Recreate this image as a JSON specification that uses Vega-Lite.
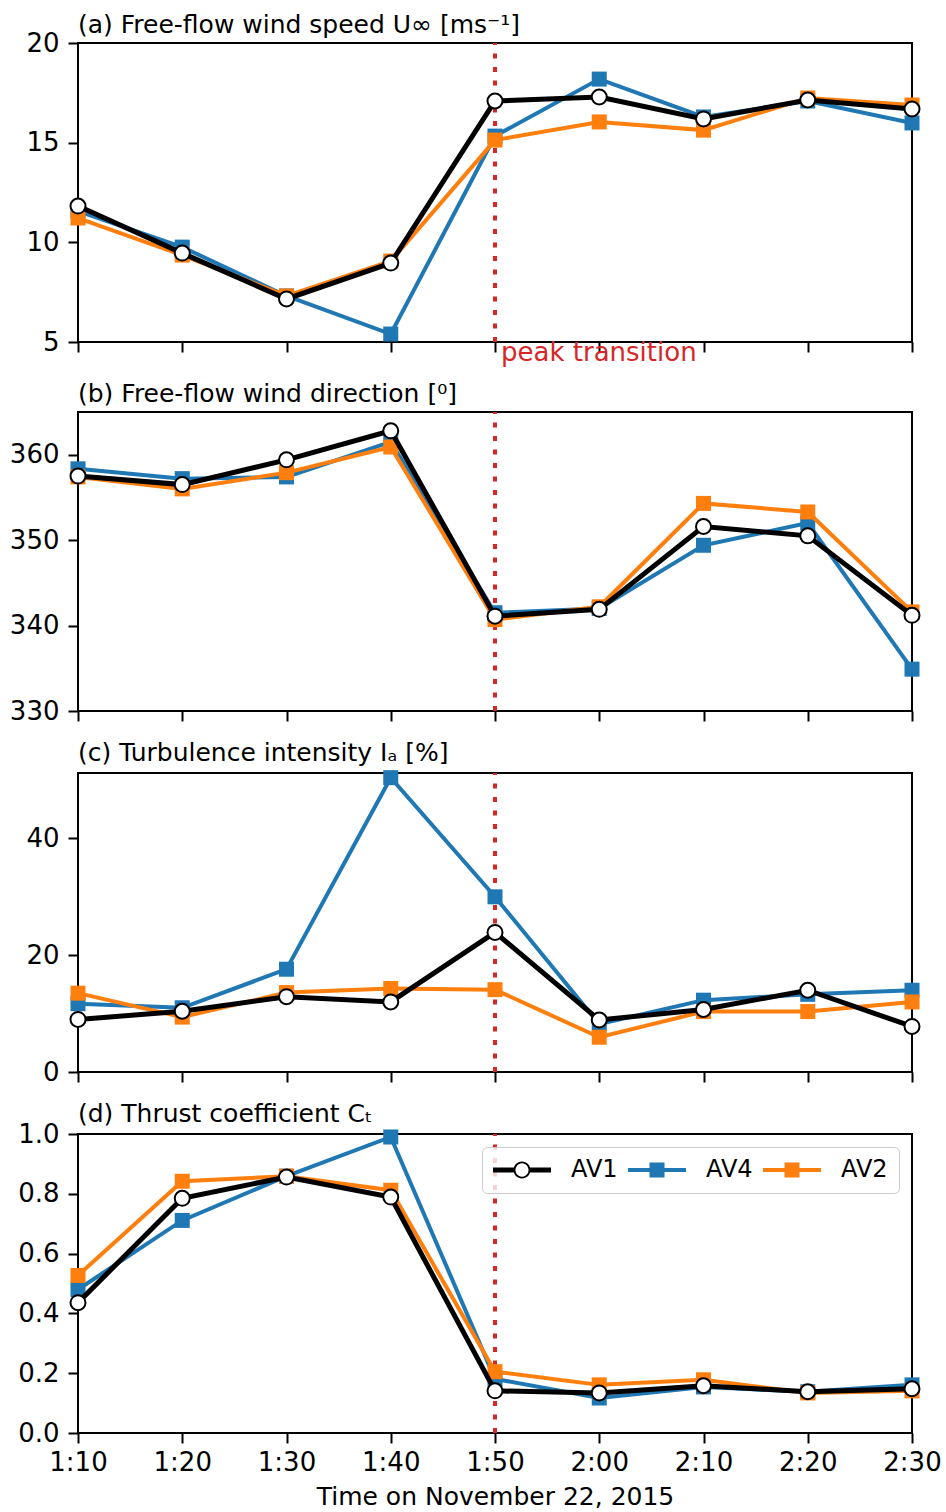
{
  "$schema": "https://vega.github.io/schema/vega-lite/v6.json",
  "padding": {"left": 7, "top": 12, "right": 5, "bottom": 3},
  "data": {"values": [
    {"t": "1:10", "s": "AV1", "u": 11.82, "d": 357.5, "ti": 9.0, "ct": 0.436},
    {"t": "1:20", "s": "AV1", "u": 9.46, "d": 356.5, "ti": 10.4, "ct": 0.785},
    {"t": "1:30", "s": "AV1", "u": 7.16, "d": 359.4, "ti": 12.9, "ct": 0.856},
    {"t": "1:40", "s": "AV1", "u": 8.96, "d": 362.8, "ti": 12.0, "ct": 0.789},
    {"t": "1:50", "s": "AV1", "u": 17.09, "d": 341.1, "ti": 23.9, "ct": 0.141},
    {"t": "2:00", "s": "AV1", "u": 17.29, "d": 341.9, "ti": 8.9, "ct": 0.134},
    {"t": "2:10", "s": "AV1", "u": 16.19, "d": 351.6, "ti": 10.7, "ct": 0.158},
    {"t": "2:20", "s": "AV1", "u": 17.14, "d": 350.5, "ti": 14.0, "ct": 0.138},
    {"t": "2:30", "s": "AV1", "u": 16.69, "d": 341.2, "ti": 7.8, "ct": 0.148},
    {"t": "1:10", "s": "AV4", "u": 11.57, "d": 358.35, "ti": 11.7, "ct": 0.48},
    {"t": "1:20", "s": "AV4", "u": 9.76, "d": 357.2, "ti": 11.0, "ct": 0.711},
    {"t": "1:30", "s": "AV4", "u": 7.31, "d": 357.4, "ti": 17.6, "ct": 0.859},
    {"t": "1:40", "s": "AV4", "u": 5.4, "d": 361.5, "ti": 50.4, "ct": 0.99},
    {"t": "1:50", "s": "AV4", "u": 15.33, "d": 341.5, "ti": 30.0, "ct": 0.181},
    {"t": "2:00", "s": "AV4", "u": 18.19, "d": 342.0, "ti": 8.2, "ct": 0.117},
    {"t": "2:10", "s": "AV4", "u": 16.29, "d": 349.4, "ti": 12.3, "ct": 0.154},
    {"t": "2:20", "s": "AV4", "u": 17.09, "d": 352.0, "ti": 13.3, "ct": 0.138},
    {"t": "2:30", "s": "AV4", "u": 15.99, "d": 334.9, "ti": 14.0, "ct": 0.161},
    {"t": "1:10", "s": "AV2", "u": 11.22, "d": 357.4, "ti": 13.5, "ct": 0.527},
    {"t": "1:20", "s": "AV2", "u": 9.36, "d": 356.0, "ti": 9.4, "ct": 0.842},
    {"t": "1:30", "s": "AV2", "u": 7.31, "d": 357.9, "ti": 13.6, "ct": 0.859},
    {"t": "1:40", "s": "AV2", "u": 9.06, "d": 360.9, "ti": 14.3, "ct": 0.812},
    {"t": "1:50", "s": "AV2", "u": 15.13, "d": 340.7, "ti": 14.1, "ct": 0.205},
    {"t": "2:00", "s": "AV2", "u": 16.04, "d": 342.2, "ti": 5.95, "ct": 0.161},
    {"t": "2:10", "s": "AV2", "u": 15.63, "d": 354.3, "ti": 10.35, "ct": 0.178},
    {"t": "2:20", "s": "AV2", "u": 17.24, "d": 353.3, "ti": 10.35, "ct": 0.134},
    {"t": "2:30", "s": "AV2", "u": 16.89, "d": 341.6, "ti": 12.0, "ct": 0.141}
  ]},
  "spacing": 14,
  "resolve": {"scale": {"color": "independent"}, "legend": {"color": "independent"}},
  "vconcat": [
    {
      "width": 834, "height": 299,
      "title": {"text": "(a) Free-flow wind speed U∞ [ms⁻¹]", "offset": -8},
      "encoding": {
        "x": {"field": "t", "type": "ordinal", "sort": null, "scale": {"type": "point", "padding": 0, "domain": ["1:10","1:20","1:30","1:40","1:50","2:00","2:10","2:20","2:30"]}, "axis": {"labels": false, "title": null}},
        "y": {"field": "u", "type": "quantitative", "scale": {"domain": [5, 20], "nice": false, "zero": false}, "axis": {"values": [5, 10, 15, 20], "title": null}}
      },
      "layer": [
        {"transform": [{"filter": "datum.s === 'AV1' && datum.t === '1:50'"}], "mark": {"type": "rule", "color": "#d62728", "strokeWidth": 4, "strokeDash": [5, 8.5]}, "encoding": {"y": {"datum": 5}, "y2": {"datum": 20}}},
        {"transform": [{"filter": "datum.s === 'AV4'"}], "mark": {"type": "line", "color": "#1f77b4", "strokeWidth": 4}, "encoding": {}},
        {"transform": [{"filter": "datum.s === 'AV4'"}], "mark": {"type": "point", "shape": "square", "filled": true, "color": "#1f77b4", "size": 225, "opacity": 1}, "encoding": {}},
        {"transform": [{"filter": "datum.s === 'AV2'"}], "mark": {"type": "line", "color": "#ff7f0e", "strokeWidth": 4}, "encoding": {}},
        {"transform": [{"filter": "datum.s === 'AV2'"}], "mark": {"type": "point", "shape": "square", "filled": true, "color": "#ff7f0e", "size": 225, "opacity": 1}, "encoding": {}},
        {"transform": [{"filter": "datum.s === 'AV1'"}], "mark": {"type": "line", "color": "black", "strokeWidth": 5}, "encoding": {}},
        {"transform": [{"filter": "datum.s === 'AV1'"}], "mark": {"type": "point", "shape": "circle", "filled": true, "fill": "white", "stroke": "black", "strokeWidth": 2, "size": 225, "opacity": 1}, "encoding": {}},
        {"transform": [{"filter": "datum.s === 'AV1' && datum.t === '1:50'"}], "mark": {"type": "text", "text": "peak transition", "align": "left", "baseline": "alphabetic", "dx": 6, "dy": 19, "color": "#d62728", "fontSize": 26}, "encoding": {"y": {"datum": 5}}}
      ]
    },
    {
      "spacing": 62,
      "bounds": "flush",
      "resolve": {"scale": {"color": "independent"}, "legend": {"color": "independent"}},
      "vconcat": [
        {
          "width": 834, "height": 299,
          "title": {"text": "(b) Free-flow wind direction [⁰]", "offset": 3},
          "encoding": {
            "x": {"field": "t", "type": "ordinal", "sort": null, "scale": {"type": "point", "padding": 0, "domain": ["1:10","1:20","1:30","1:40","1:50","2:00","2:10","2:20","2:30"]}, "axis": {"labels": false, "title": null}},
            "y": {"field": "d", "type": "quantitative", "scale": {"domain": [330, 365], "nice": false, "zero": false}, "axis": {"values": [330, 340, 350, 360], "title": null}}
          },
          "layer": [
            {"transform": [{"filter": "datum.s === 'AV1' && datum.t === '1:50'"}], "mark": {"type": "rule", "color": "#d62728", "strokeWidth": 4, "strokeDash": [5, 8.5]}, "encoding": {"y": {"datum": 330}, "y2": {"datum": 365}}},
            {"transform": [{"filter": "datum.s === 'AV4'"}], "mark": {"type": "line", "color": "#1f77b4", "strokeWidth": 4}, "encoding": {}},
            {"transform": [{"filter": "datum.s === 'AV4'"}], "mark": {"type": "point", "shape": "square", "filled": true, "color": "#1f77b4", "size": 225, "opacity": 1}, "encoding": {}},
            {"transform": [{"filter": "datum.s === 'AV2'"}], "mark": {"type": "line", "color": "#ff7f0e", "strokeWidth": 4}, "encoding": {}},
            {"transform": [{"filter": "datum.s === 'AV2'"}], "mark": {"type": "point", "shape": "square", "filled": true, "color": "#ff7f0e", "size": 225, "opacity": 1}, "encoding": {}},
            {"transform": [{"filter": "datum.s === 'AV1'"}], "mark": {"type": "line", "color": "black", "strokeWidth": 5}, "encoding": {}},
            {"transform": [{"filter": "datum.s === 'AV1'"}], "mark": {"type": "point", "shape": "circle", "filled": true, "fill": "white", "stroke": "black", "strokeWidth": 2, "size": 225, "opacity": 1}, "encoding": {}}
          ]
        },
        {
          "width": 834, "height": 299,
          "title": {"text": "(c) Turbulence intensity Iₐ [%]", "offset": 4},
          "encoding": {
            "x": {"field": "t", "type": "ordinal", "sort": null, "scale": {"type": "point", "padding": 0, "domain": ["1:10","1:20","1:30","1:40","1:50","2:00","2:10","2:20","2:30"]}, "axis": {"labels": false, "title": null}},
            "y": {"field": "ti", "type": "quantitative", "scale": {"domain": [0, 51.2], "nice": false, "zero": false}, "axis": {"values": [0, 20, 40], "title": null}}
          },
          "layer": [
            {"transform": [{"filter": "datum.s === 'AV1' && datum.t === '1:50'"}], "mark": {"type": "rule", "color": "#d62728", "strokeWidth": 4, "strokeDash": [5, 8.5]}, "encoding": {"y": {"datum": 0}, "y2": {"datum": 51.2}}},
            {"transform": [{"filter": "datum.s === 'AV4'"}], "mark": {"type": "line", "color": "#1f77b4", "strokeWidth": 4}, "encoding": {}},
            {"transform": [{"filter": "datum.s === 'AV4'"}], "mark": {"type": "point", "shape": "square", "filled": true, "color": "#1f77b4", "size": 225, "opacity": 1}, "encoding": {}},
            {"transform": [{"filter": "datum.s === 'AV2'"}], "mark": {"type": "line", "color": "#ff7f0e", "strokeWidth": 4}, "encoding": {}},
            {"transform": [{"filter": "datum.s === 'AV2'"}], "mark": {"type": "point", "shape": "square", "filled": true, "color": "#ff7f0e", "size": 225, "opacity": 1}, "encoding": {}},
            {"transform": [{"filter": "datum.s === 'AV1'"}], "mark": {"type": "line", "color": "black", "strokeWidth": 5}, "encoding": {}},
            {"transform": [{"filter": "datum.s === 'AV1'"}], "mark": {"type": "point", "shape": "circle", "filled": true, "fill": "white", "stroke": "black", "strokeWidth": 2, "size": 225, "opacity": 1}, "encoding": {}}
          ]
        },
        {
          "width": 834, "height": 299,
          "title": {"text": "(d) Thrust coefficient Cₜ", "offset": -6},
          "encoding": {
            "x": {"field": "t", "type": "ordinal", "sort": null, "scale": {"type": "point", "padding": 0, "domain": ["1:10","1:20","1:30","1:40","1:50","2:00","2:10","2:20","2:30"]}, "axis": {"labelAngle": 0, "title": "Time on November 22, 2015"}},
            "y": {"field": "ct", "type": "quantitative", "scale": {"domain": [0, 1], "nice": false, "zero": false}, "axis": {"values": [0, 0.2, 0.4, 0.6, 0.8, 1.0], "format": ".1f", "title": null}}
          },
          "layer": [
            {"transform": [{"filter": "datum.s === 'AV1' && datum.t === '1:50'"}], "mark": {"type": "rule", "color": "#d62728", "strokeWidth": 4, "strokeDash": [5, 8.5]}, "encoding": {"y": {"datum": 0}, "y2": {"datum": 1}}},
            {"transform": [{"filter": "datum.s === 'AV4'"}], "mark": {"type": "line", "color": "#1f77b4", "strokeWidth": 4}, "encoding": {}},
            {"transform": [{"filter": "datum.s === 'AV4'"}], "mark": {"type": "point", "shape": "square", "filled": true, "color": "#1f77b4", "size": 225, "opacity": 1}, "encoding": {}},
            {"transform": [{"filter": "datum.s === 'AV2'"}], "mark": {"type": "line", "color": "#ff7f0e", "strokeWidth": 4}, "encoding": {}},
            {"transform": [{"filter": "datum.s === 'AV2'"}], "mark": {"type": "point", "shape": "square", "filled": true, "color": "#ff7f0e", "size": 225, "opacity": 1}, "encoding": {}},
            {"transform": [{"filter": "datum.s === 'AV1'"}], "mark": {"type": "line", "strokeWidth": 5}, "encoding": {
              "color": {"field": "s", "type": "nominal", "scale": {"domain": ["AV1", "AV4", "AV2"], "range": ["black", "#1f77b4", "#ff7f0e"]},
                "legend": {
                  "title": null, "orient": "top-right", "offset": 13, "direction": "horizontal", "columns": 3,
                  "padding": 11, "fillColor": "rgba(255,255,255,0.8)", "strokeColor": "#cccccc", "cornerRadius": 5,
                  "labelFontSize": 24, "labelColor": "black", "labelOffset": 54, "symbolSize": 576, "symbolStrokeWidth": 0, "columnPadding": 10, "symbolOffset": 0,
                  "encode": {"symbols": {"update": {
                    "shape": {"signal": "datum.value === 'AV1' ? 'M-1,-0.2083H0.85V0.2083H-1Z M1.98,-0.2083H3.833V0.2083H1.98Z M2.125,0A0.708,0.708,0,1,1,0.708,0A0.708,0.708,0,1,1,2.125,0Z M1.958,0A0.5417,0.5417,0,1,0,0.875,0A0.5417,0.5417,0,1,0,1.958,0Z' : 'M-1,-0.1667H3.833V0.1667H-1Z M0.7917,-0.625H2.0417V0.625H0.7917Z'"},
                    "fill": {"signal": "datum.value === 'AV1' ? 'black' : datum.value === 'AV4' ? '#1f77b4' : '#ff7f0e'"},
                    "strokeWidth": {"value": 0},
                    "size": {"value": 576},
                    "opacity": {"value": 1}
                  }}}
                }}
            }},
            {"transform": [{"filter": "datum.s === 'AV1'"}], "mark": {"type": "point", "shape": "circle", "filled": true, "fill": "white", "stroke": "black", "strokeWidth": 2, "size": 225, "opacity": 1}, "encoding": {}}
          ]
        }
      ]
    }
  ],
  "config": {
    "font": "DejaVu Sans",
    "view": {"stroke": "black", "strokeWidth": 2},
    "axis": {"domain": false, "grid": false, "ticks": true, "tickColor": "black", "tickWidth": 2, "tickSize": 10, "labelFontSize": 26, "labelColor": "black", "labelPadding": 9, "titleFontSize": 25, "titleFontWeight": "normal", "titleColor": "black", "titlePadding": 9},
    "axisX": {"labelPadding": 6},
    "axisY": {"minExtent": 70, "maxExtent": 70},
    "title": {"fontSize": 25, "fontWeight": "normal", "anchor": "start", "frame": "group", "color": "black"}
  }
}
